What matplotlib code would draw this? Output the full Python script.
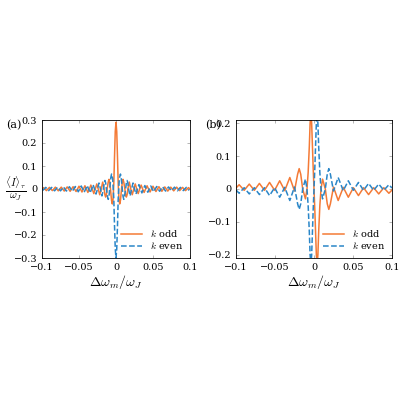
import numpy as np
import matplotlib
matplotlib.use("Agg")
import matplotlib.pyplot as plt

plt.rcParams['mathtext.fontset'] = 'cm'
plt.rcParams['font.family'] = 'serif'
plt.rcParams['font.serif'] = ['DejaVu Serif']

# panel (a): values, x >= 0 (curve is symmetric)
a_x = [0, 0.001, 0.002, 0.003, 0.004, 0.005, 0.006, 0.0075, 0.0085, 0.0095, 0.0105, 0.012,
       0.013, 0.014, 0.015, 0.016, 0.018, 0.020, 0.022, 0.024,
       0.026, 0.028, 0.030, 0.032, 0.034, 0.036, 0.038, 0.040, 0.042, 0.044, 0.046, 0.048,
       0.050, 0.052, 0.054, 0.056, 0.058, 0.060, 0.062, 0.064, 0.066, 0.068, 0.070, 0.072,
       0.074, 0.076, 0.078, 0.080, 0.082, 0.084, 0.086, 0.088, 0.090, 0.092, 0.094, 0.096,
       0.098, 0.100]
a_odd = [0.29, 0.25, 0.14, 0.02, -0.045, -0.065, -0.05, 0.0, 0.03, 0.042, 0.03, 0.0,
         -0.025, -0.035, -0.025, 0.0, 0.03, 0.0, -0.025, 0.0,
         0.022, 0.0, -0.02, 0.0, 0.017, 0.0, -0.015, 0.0, 0.014, 0.0, -0.013, 0.0,
         0.012, 0.0, -0.011, 0.0, 0.010, 0.0, -0.010, 0.0, 0.009, 0.0, -0.009, 0.0,
         0.008, 0.0, -0.008, 0.0, 0.008, 0.0, -0.007, 0.0, 0.007, 0.0, -0.007, 0.0,
         0.006, 0.0]
a_even_x = [0, 0.001, 0.002, 0.003, 0.0045, 0.006, 0.007, 0.0085, 0.0095, 0.0105, 0.0115,
            0.013, 0.014, 0.015, 0.016, 0.017, 0.019, 0.021, 0.023, 0.025,
            0.027, 0.029, 0.031, 0.033, 0.035, 0.037, 0.039, 0.041, 0.043, 0.045, 0.047, 0.049,
            0.051, 0.053, 0.055, 0.057, 0.059, 0.061, 0.063, 0.065, 0.067, 0.069, 0.071, 0.073,
            0.075, 0.077, 0.079, 0.081, 0.083, 0.085, 0.087, 0.089, 0.091, 0.093, 0.095, 0.097,
            0.099]
a_even = [-0.30, -0.26, -0.16, -0.04, 0.045, 0.065, 0.05, 0.0, -0.032, -0.045, -0.032,
          0.0, 0.027, 0.037, 0.027, 0.0, -0.03, 0.0, 0.026, 0.0,
          -0.022, 0.0, 0.019, 0.0, -0.017, 0.0, 0.015, 0.0, -0.014, 0.0, 0.013, 0.0,
          -0.012, 0.0, 0.011, 0.0, -0.010, 0.0, 0.010, 0.0, -0.009, 0.0, 0.009, 0.0,
          -0.008, 0.0, 0.008, 0.0, -0.008, 0.0, 0.007, 0.0, -0.007, 0.0, 0.007, 0.0,
          -0.006]

# panel (b): k odd, x <= 0 ; curve is antisymmetric, k even is its negative
b_x = [-0.100, -0.096, -0.0895, -0.083, -0.0765, -0.070, -0.0635, -0.057, -0.0505, -0.044,
       -0.0375, -0.031, -0.025, -0.021, -0.019, -0.017, -0.0145, -0.011, -0.009, -0.0075,
       -0.006, -0.005, -0.004, -0.003, -0.002, -0.001, 0.0]
b_odd = [0.003, 0.013, -0.004, 0.015, -0.004, 0.017, -0.004, 0.02, -0.004, 0.025,
         -0.005, 0.035, -0.006, 0.045, 0.062, 0.045, 0.0, -0.03, 0.0, 0.05,
         0.13, 0.2, 0.23, 0.2, 0.13, 0.06, 0.0]

orange = '#f47a36'
blue = '#2a86c8'

def full(xs, ys, sign):
    xs = np.array(xs); ys = np.array(ys)
    if sign > 0:  # symmetric
        return np.r_[-xs[::-1], xs[1:]], np.r_[ys[::-1], ys[1:]]
    return np.r_[xs, -xs[-2::-1]], np.r_[ys, -ys[-2::-1]]

fig = plt.figure(figsize=(4, 4), dpi=100)
axa = fig.add_axes([0.105, 0.355, 0.37, 0.345])
axb = fig.add_axes([0.59, 0.355, 0.39, 0.345])

x, y = full(a_x, a_odd, 1)
axa.plot(x, y, color=orange, lw=1.1, label=r'$k$ odd')
x, y = full(a_even_x, a_even, 1)
axa.plot(x, y, color=blue, lw=1.1, ls='--', label=r'$k$ even')
axa.set_ylim(-0.3, 0.3)
axa.set_yticks([-0.3, -0.2, -0.1, 0, 0.1, 0.2, 0.3])
axa.set_yticklabels(['−0.3', '−0.2', '−0.1', '0', '0.1', '0.2', '0.3'])

x, y = full(b_x, b_odd, -1)
axb.plot(x, y, color=orange, lw=1.1, label=r'$k$ odd')
axb.plot(x, -y, color=blue, lw=1.1, ls='--', label=r'$k$ even')
axb.set_ylim(-0.21, 0.21)
axb.set_yticks([-0.2, -0.1, 0, 0.1, 0.2])
axb.set_yticklabels(['−0.2', '−0.1', '0', '0.1', '0.2'])

for ax, lab, lx in [(axa, '(a)', -0.24), (axb, '(b)', -0.2)]:
    ax.set_xlim(-0.1, 0.1)
    ax.set_xticks([-0.1, -0.05, 0, 0.05, 0.1])
    ax.set_xticklabels(['−0.1', '−0.05', '0', '0.05', '0.1'])
    ax.tick_params(direction='in', top=True, right=True, labelsize=7, length=2.5,
                   color='#aaaaaa', width=0.6)
    ax.set_xlabel(r'$\Delta\omega_m/\omega_J$', fontsize=10, labelpad=1)
    for s in ax.spines.values():
        s.set_linewidth(0.6)
    ax.legend(loc='lower right', frameon=False, fontsize=7, handlelength=2.2,
              labelspacing=0.1, borderaxespad=0.3)
    ax.text(lx, 1.0, lab, transform=ax.transAxes, fontsize=8, va='top')

axa.set_ylabel(r'$\frac{\langle I\rangle_\tau}{\omega_J}$', fontsize=11, rotation=0,
               labelpad=2, va='center')
axa.yaxis.set_label_coords(-0.18, 0.5)

fig.savefig('out.png', dpi=100)
